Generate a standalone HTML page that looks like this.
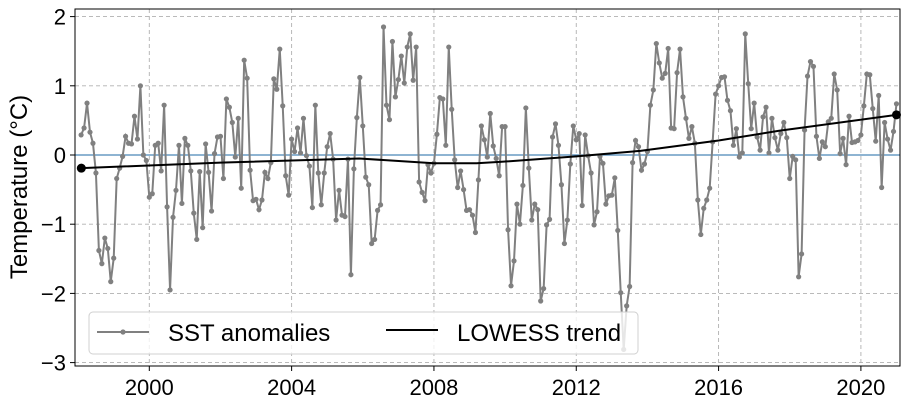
<!DOCTYPE html>
<html><head><meta charset="utf-8"><style>
html,body{margin:0;padding:0;background:#fff;}
svg{display:block;font-family:"Liberation Sans",Arial,sans-serif;}
</style></head><body>
<svg id="chart" width="910" height="402" xmlns="http://www.w3.org/2000/svg"></svg>
<script>
const yTicks=[2,1,0,-1,-2,-3];
const xTicks=[2000,2004,2008,2012,2016,2020];
const startYear=1998+1/12;
const sst=[0.29,0.39,0.75,0.33,0.17,-0.26,-1.38,-1.57,-1.20,-1.35,-1.83,-1.49,-0.34,-0.19,-0.02,0.27,0.17,0.16,0.56,0.23,1.0,0,-0.08,-0.61,-0.56,0.14,0.17,-0.23,0.72,-0.75,-1.95,-0.90,-0.51,0.14,-0.70,0.24,0.14,-0.23,-0.84,-1.22,-0.24,-1.05,0.16,-0.25,-0.81,0.02,0.26,
0.27,-0.34,0.81,0.69,0.47,-0.03,0.53,-0.48,1.37,1.11,-0.22,-0.66,-0.64,-0.79,-0.65,-0.25,-0.34,-0.11,1.10,0.95,1.53,0.71,-0.30,-0.58,0.23,0.05,0.39,0.03,0.53,-0.01,-0.16,-0.76,0.72,-0.26,-0.72,-0.26,0.12,0.31,-0.06,-0.94,-0.51,-0.87,-0.89,-0.06,-1.73,-0.20,0.54,
1.12,0.42,-0.32,-0.43,-1.28,-1.22,-0.80,-0.72,1.85,0.72,0.51,1.64,0.84,1.09,1.43,1.04,1.56,1.75,1.08,1.56,-0.39,-0.54,-0.66,-0.14,-0.26,-0.12,0.30,0.83,0.81,0.14,1.56,0.66,-0.07,-0.47,-0.23,-0.50,-0.80,-0.79,-0.87,-1.12,-0.36,0.42,0.22,-0.03,0.60,0.13,-0.05,-0.30,
0.41,0.41,-1.08,-1.89,-1.53,-0.71,-1.00,-0.44,0.68,-0.19,-0.94,-0.71,-0.79,-2.11,-1.93,-1.01,-0.93,0.26,0.45,0.14,-0.43,-1.28,-0.94,-0.13,0.42,0.22,0.31,-0.73,0.29,-0.01,-0.26,-1.01,-0.82,-0.02,-0.12,-0.71,-0.59,-0.58,-0.33,-1.09,-1.99,-2.81,-2.18,-1.90,-0.11,0.21,0.12,
-0.22,-0.13,0.05,0.72,0.94,1.61,1.33,1.11,1.18,1.54,0.39,0.38,1.19,1.53,0.84,0.53,0.24,0.41,0.17,-0.65,-1.15,-0.77,-0.65,-0.48,0.19,0.88,1.00,1.12,1.13,0.79,0.64,0.14,0.38,-0.03,0.03,1.75,1.03,0.38,0.75,0.26,0.07,0.55,0.69,0.03,0.53,0.25,0.07,
0.31,0.47,0.25,-0.34,-0.02,-0.07,-1.76,-1.43,0.36,1.14,1.35,1.28,0.27,-0.05,0.19,0.12,0.48,0.53,1.17,0.94,0.02,0.24,-0.14,0.56,0.18,0.19,0.21,0.29,0.71,1.17,1.16,0.67,0.20,0.86,-0.47,0.47,0.23,0.07,0.34,0.74];
const trendYears=[1998.09,2002.0,2005.9,2008.0,2009.2,2009.85,2012.0,2013.8,2016.0,2017.7,2021.0];
const trendVals=[-0.19,-0.11,-0.05,-0.12,-0.12,-0.10,-0.02,0.06,0.21,0.35,0.58];

const NS="http://www.w3.org/2000/svg";
const svg=document.getElementById('chart');
const L=75,R=900,T=9,B=366;
const xs=y=>149.3+(y-2000)*35.58;
const ys=v=>155-v*69.2;
function mk(tag,attrs,parent){const e=document.createElementNS(NS,tag);for(const k in attrs)e.setAttribute(k,attrs[k]);(parent||svg).appendChild(e);return e;}

const grid=mk('g',{});


yTicks.forEach(v=>{
  mk('line',{x1:L,x2:R,y1:ys(v),y2:ys(v),stroke:'#b0b0b0','stroke-width':0.9,'stroke-dasharray':'4,3'},grid);
  mk('line',{x1:L-5,x2:L,y1:ys(v),y2:ys(v),stroke:'#000','stroke-width':1},grid);
  const t=mk('text',{x:L-9,y:ys(v)+8,'text-anchor':'end','font-size':22,fill:'#000'});
  t.textContent=v<0?'\u2212'+Math.abs(v):String(v);
  
  
});
xTicks.forEach(v=>{
  mk('line',{x1:xs(v),x2:xs(v),y1:T,y2:B,stroke:'#b0b0b0','stroke-width':0.9,'stroke-dasharray':'4,3'},grid);
  mk('line',{x1:xs(v),x2:xs(v),y1:B,y2:B+5,stroke:'#000','stroke-width':1},grid);
  const t=mk('text',{x:xs(v),y:B+29,'text-anchor':'middle','font-size':22,fill:'#000'});
  t.textContent=String(v);
  
  
});
const zero=mk('line',{x1:L,x2:R,y1:ys(0),y2:ys(0),stroke:'#4a86b8','stroke-width':1.3});



const pts=sst.map((v,i)=>[xs(startYear+i/12),ys(v)]);
const line=mk('polyline',{points:pts.map(p=>p.join(',')).join(' '),fill:'none',stroke:'#808080','stroke-width':2});


const mg=mk('g',{fill:'#808080'});


pts.forEach(p=>{const c=mk('circle',{cx:p[0],cy:p[1],r:2.6},mg);

});

const tp=trendYears.map((y,i)=>[xs(y),ys(trendVals[i])]);
const tl=mk('polyline',{points:tp.map(p=>p.join(',')).join(' '),fill:'none',stroke:'#000','stroke-width':2});


[tp[0],tp[tp.length-1]].forEach(p=>{const c=mk('circle',{cx:p[0],cy:p[1],r:4.5,fill:'#000'});

});

const frame=mk('rect',{x:L,y:T,width:R-L,height:B-T,fill:'none',stroke:'#000','stroke-width':1});



const yl=mk('text',{x:0,y:0,transform:'translate(27,187) rotate(-90)','text-anchor':'middle','font-size':24,fill:'#000'});
yl.textContent='Temperature (°C)';



const lg=mk('g',{});


mk('rect',{x:89,y:312,width:549,height:42,rx:4,fill:'rgba(255,255,255,0.8)',stroke:'#d0d0d0','stroke-width':1},lg);
const e1=mk('g',{},lg);


mk('line',{x1:97,x2:149,y1:332,y2:332,stroke:'#808080','stroke-width':2},e1);
mk('circle',{cx:123,cy:332,r:2.6,fill:'#808080'},e1);
const t1=mk('text',{x:168,y:341,'font-size':24,fill:'#000'},e1);t1.textContent='SST anomalies';
const e2=mk('g',{},lg);


mk('line',{x1:386,x2:438,y1:330,y2:330,stroke:'#000','stroke-width':2},e2);
const t2=mk('text',{x:457,y:341,'font-size':24,fill:'#000'},e2);t2.textContent='LOWESS trend';
</script>
</body></html>
